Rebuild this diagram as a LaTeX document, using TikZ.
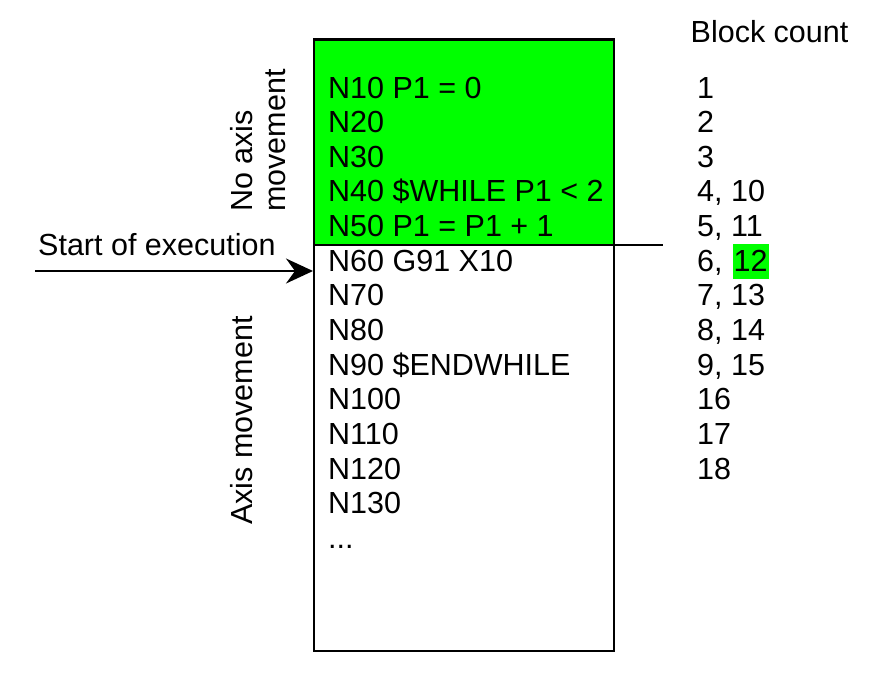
\documentclass[tikz,border=0pt]{standalone}
\usepackage{fontspec}
\setmainfont{Liberation Sans}
\usepackage{xcolor}
\usetikzlibrary{arrows.meta}
\definecolor{vblack}{HTML}{000000}
\definecolor{vgreen}{HTML}{00FF00}

\begin{document}
\begin{tikzpicture}[x=1pt, y=-1pt,
		txt/.style={anchor=base west, inner sep=0, font=\fontsize{30.5}{34.65}\selectfont, text=vblack},
		hilite/.style={txt, fill=vgreen, inner xsep=1pt, text height=27.5pt, text depth=7.5pt}]
		\useasboundingbox (0,0) rectangle (873,681);
		% program box
		\fill[color=vgreen] (313,39) rectangle (613,245);
		\node[draw=vblack, line width=2pt, anchor=north west, minimum width=300pt, minimum height=611pt, inner sep=0] (prog) at (313,39) {};
		\draw[color=vblack, line width=3pt] (prog.north west) -- (prog.north east);
		\coordinate (split) at (313,245);
		\coordinate (splitend) at (663,245);
		\draw[color=vblack, line width=2pt] (split) -- (splitend);
		% program lines
		\node[txt] (n10) at (328,98) {N10 P1 = 0};
		\node[txt] (n20) at (328,132.65) {N20};
		\node[txt] (n30) at (328,167.3) {N30};
		\node[txt] (n40) at (328,201.95) {N40 \$WHILE P1 < 2};
		\node[txt] (n50) at (328,236.6) {N50 P1 = P1 + 1};
		\node[txt] (n60) at (328,271.25) {N60 G91 X10};
		\node[txt] (n70) at (328,305.9) {N70};
		\node[txt] (n80) at (328,340.55) {N80};
		\node[txt] (n90) at (328,375.2) {N90 \$ENDWHILE};
		\node[txt] (n100) at (328,409.85) {N100};
		\node[txt] (n110) at (328,444.5) {N110};
		\node[txt] (n120) at (328,479.15) {N120};
		\node[txt] (n130) at (328,513.8) {N130};
		\node[txt] (dots) at (328,548.45) {...};
		% side labels
		\node[txt, rotate=90] (noaxis) at (252,212) {No axis};
		\node[txt, rotate=90] (nomove) at (285,212) {movement};
		\node[txt, rotate=90] (axismove) at (252,525) {Axis movement};
		% start of execution
		\node[txt] (start) at (38,255) {Start of execution};
		\coordinate (exec) at (35,271);
		\draw[color=vblack, line width=2pt, -{Stealth[length=27pt, width=25pt, inset=9pt]}] (exec) -- (exec -| prog.west);
		% block count
		\node[txt] (count) at (690.5,42) {Block count};
		\node[txt] (c1) at (697,98) {1};
		\node[txt] (c2) at (697,132.65) {2};
		\node[txt] (c3) at (697,167.3) {3};
		\node[txt] (c4) at (697,201.95) {4, 10};
		\node[txt] (c5) at (697,236.6) {5, 11};
		\node[txt] (c6) at (697,271.25) {6,};
		\node[hilite] (c12) at (732.5,271.25) {12};
		\node[txt] (c7) at (697,305.9) {7, 13};
		\node[txt] (c8) at (697,340.55) {8, 14};
		\node[txt] (c9) at (697,375.2) {9, 15};
		\node[txt] (c16) at (697,409.85) {16};
		\node[txt] (c17) at (697,444.5) {17};
		\node[txt] (c18) at (697,479.15) {18};
	\end{tikzpicture}
\end{document}
